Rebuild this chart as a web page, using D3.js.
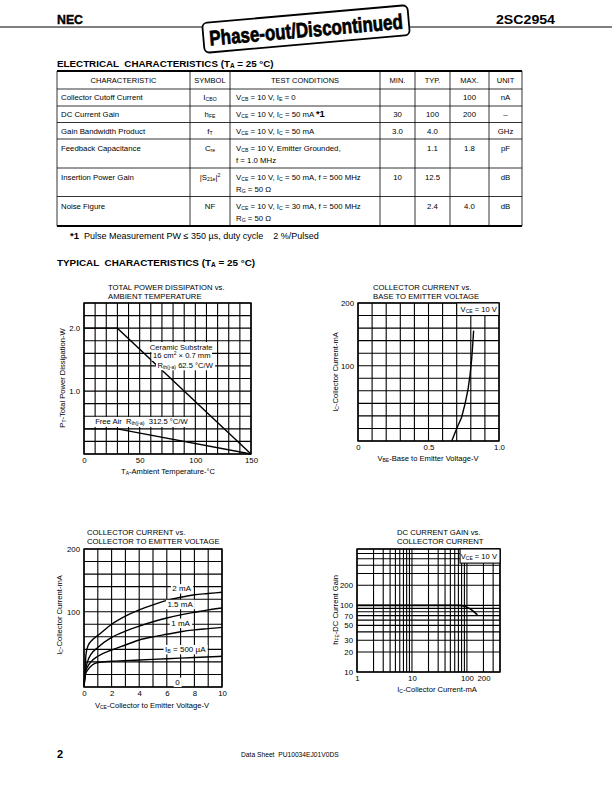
<!DOCTYPE html>
<html><head><meta charset="utf-8">
<script src="https://cdn.jsdelivr.net/npm/d3@7"></script>
<style>
html,body{margin:0;padding:0;background:#fff;}
svg{display:block;font-family:"Liberation Sans",Arial,Helvetica,sans-serif;}
text{white-space:pre;}
</style></head><body>
<svg id="page" width="612" height="792"></svg>
<script>
// ---------------- DATA ----------------
// Electrical characteristics table
const tableHeaders = ["CHARACTERISTIC","SYMBOL","TEST CONDITIONS","MIN.","TYP.","MAX.","UNIT"];
const tableCharacteristics = ["Collector Cutoff Current","DC Current Gain","Gain Bandwidth Product","Feedback Capacitance","Insertion Power Gain","Noise Figure"];
const tableSymbols = ["I_{CBO}","h_{FE}","f_{T}","C_{re}","|S_{21e}|^{2}","NF"];
const tableConditions = [
  ["V_{CB} = 10 V, I_{E} = 0"],
  ["V_{CE} = 10 V, I_{C} = 50 mA *{*1}"],
  ["V_{CE} = 10 V, I_{C} = 50 mA"],
  ["V_{CB} = 10 V, Emitter Grounded,","f = 1.0 MHz"],
  ["V_{CE} = 10 V, I_{C} = 50 mA, f = 500 MHz","R_{G} = 50 Ω"],
  ["V_{CE} = 10 V, I_{C} = 30 mA, f = 500 MHz","R_{G} = 50 Ω"]
];
const tableMin  = ["", "30", "3.0", "", "10", ""];
const tableTyp  = ["", "100", "4.0", "1.1", "12.5", "2.4"];
const tableMax  = ["100", "200", "", "1.8", "", "4.0"];
const tableUnit = ["nA", "–", "GHz", "pF", "dB", "dB"];

// Chart 1: total power dissipation vs ambient temperature
const pdTempTicks = [0, 50, 100, 150];
const pdPowerTicks = [1.0, 2.0];
const pdCeramic = [[0, 2.0], [30, 2.0], [150, 0]];
const pdFreeAir = [[0, 0.4], [30, 0.4], [150, 0]];

// Chart 2: collector current vs base-emitter voltage
const vbeTicks = [0, 0.5, 1.0];
const icTicksA = [100, 200];
const icVsVbe = [[0.665,-20],[0.70,0],[0.735,18],[0.76,40],[0.78,62],[0.795,86],[0.806,110],[0.814,135],[0.82,156]];

// Chart 3: collector current vs collector-emitter voltage
const vceTicks = [0, 2, 4, 6, 8, 10];
const icTicksB = [100, 200];
const ibNames = ["2 mA", "1.5 mA", "1 mA", "I_{B} = 500 µA", "0"];
const ib2mA   = [[0,-20],[0.08,10],[0.15,33],[0.3,46],[0.6,55],[1,62],[2,80],[3,93],[4,103],[5,111],[6,118],[7,123],[8,127],[9,129],[10,131]];
const ib15mA  = [[0,-20],[0.1,5],[0.25,20],[0.5,32],[1,43],[2,59],[3,69],[4,77],[5,84],[6,90],[7,95],[8,99],[9,103],[10,106]];
const ib1mA   = [[0,-20],[0.1,3],[0.25,12],[0.5,20],[1,29],[2,39],[3,47],[4,55],[5,60],[6,64],[7,68],[8,71],[9,73],[10,75]];
const ib05mA  = [[0,-20],[0.1,0],[0.3,8],[0.6,15],[1,19],[2,21],[4,23],[6,25],[8,27],[10,29]];
const ibLabelPos = [[7.08,137],[6.96,112],[7.0,82],[7.34,40],[6.77,-12]];

// Chart 4: DC current gain vs collector current
const hfeIcTicks = [1, 10, 100, 200];
const hfeTicks = [10, 20, 30, 50, 70, 100, 200];
const hfeVsIc = [[1,100],[70,100],[90,97],[110,90],[130,82],[155,72]];

// ---------------- DRAW ----------------
const svg = d3.select("#page");
const FONT = '"Liberation Sans",Arial,Helvetica,sans-serif';

function rich(sel, str, size) {
  const re = /(_|\^|\*)\{([^}]*)\}/g;
  let last = 0, m; const parts = [];
  while ((m = re.exec(str))) {
    if (m.index > last) parts.push({t: str.slice(last, m.index), k: ""});
    parts.push({t: m[2], k: m[1]});
    last = re.lastIndex;
  }
  if (last < str.length) parts.push({t: str.slice(last), k: ""});
  let cur = 0;
  parts.forEach(p => {
    const target = p.k === "_" ? size * 0.13 : p.k === "^" ? -size * 0.4 : 0;
    const ts = sel.append("tspan").text(p.t);
    if (target - cur !== 0) ts.attr("dy", target - cur);
    cur = target;
    if (p.k === "_" || p.k === "^") ts.attr("font-size", size * 0.66);
    if (p.k === "*") ts.attr("font-weight", "bold").attr("font-size", size * 1.2);
  });
  return sel;
}
function txt(parent, x, y, str, size, anchor, extra) {
  const t = parent.append("text").attr("x", x).attr("y", y)
    .attr("font-size", size).attr("text-anchor", anchor || "start").attr("fill", "#000");
  rich(t, str, size);
  if (extra) extra(t);
  return t;
}
function whiteBg(t, padX, padY) {
  const b = t.node().getBBox();
  t.node().parentNode.insertBefore(
    d3.create("svg:rect").attr("x", b.x - padX).attr("y", b.y - padY)
      .attr("width", b.width + 2 * padX).attr("height", b.height + 2 * padY)
      .attr("fill", "#fff").node(), t.node());
}

// ---- Header ----
svg.append("line").attr("x1", 0).attr("x2", 205).attr("y1", 27).attr("y2", 27).attr("stroke", "#000").attr("stroke-width", 1);
svg.append("line").attr("x1", 410).attr("x2", 612).attr("y1", 27).attr("y2", 27).attr("stroke", "#000").attr("stroke-width", 1);
svg.append("text").attr("x", 57).attr("y", 24).attr("font-size", 13).attr("font-weight", 900)
  .attr("stroke", "#000").attr("stroke-width", 0.4)
  .attr("textLength", 26).attr("lengthAdjust", "spacingAndGlyphs").text("NEC");
svg.append("text").attr("x", 496).attr("y", 24).attr("font-size", 12).attr("font-weight", "bold")
  .attr("textLength", 59).attr("lengthAdjust", "spacingAndGlyphs").text("2SC2954");
const stamp = svg.append("g").attr("transform", "translate(306,29) rotate(-5)");
stamp.append("rect").attr("x", -103).attr("y", -15).attr("width", 206).attr("height", 30).attr("rx", 5)
  .attr("fill", "#fff").attr("stroke", "#000").attr("stroke-width", 1.8);
stamp.append("text").attr("x", 0).attr("y", 8).attr("text-anchor", "middle").attr("font-size", 21)
  .attr("font-weight", "bold").attr("fill", "#000").attr("stroke", "#000").attr("stroke-width", 0.7)
  .attr("textLength", 194).attr("lengthAdjust", "spacingAndGlyphs").text("Phase-out/Discontinued");

// ---- Electrical characteristics ----
txt(svg, 57, 67, "ELECTRICAL  CHARACTERISTICS (T_{A} = 25 °C)", 9.8, "start", t => t.attr("font-weight", "bold"));
const colX = [57, 190, 230, 380, 415, 450, 489, 522];
const rowY = [71, 89, 106, 122.5, 139, 168, 196.5, 226];
const tbl = svg.append("g");
tbl.selectAll("line.h").data(rowY).join("line")
  .attr("x1", colX[0]).attr("x2", colX[colX.length - 1])
  .attr("y1", d => d).attr("y2", d => d)
  .attr("stroke", "#000").attr("stroke-width", (d, i) => (i === 0 || i === rowY.length - 1) ? 1.8 : 0.8);
tbl.selectAll("line.v").data(colX).join("line")
  .attr("x1", d => d).attr("x2", d => d).attr("y1", rowY[0]).attr("y2", rowY[rowY.length - 1])
  .attr("stroke", "#000").attr("stroke-width", 0.8);
const colCenter = i => (colX[i] + colX[i + 1]) / 2;
tableHeaders.forEach((h, i) => txt(tbl, colCenter(i), (rowY[0] + rowY[1]) / 2 + 2.7, h, 7.5, "middle"));
tableCharacteristics.forEach((c, r) => {
  const top = rowY[r + 1], bot = rowY[r + 2];
  const multi = tableConditions[r].length > 1;
  const y0 = multi ? top + 12 : (top + bot) / 2 + 2.8;
  txt(tbl, 61, y0, c, 7.8, "start");
  txt(tbl, colCenter(1), y0, tableSymbols[r], 7.8, "middle");
  tableConditions[r].forEach((s, k) => txt(tbl, 236, y0 + k * 12, s, 7.8, "start"));
  [tableMin, tableTyp, tableMax, tableUnit].forEach((arr, j) => {
    if (arr[r]) txt(tbl, colCenter(3 + j), y0, arr[r], 7.8, "middle");
  });
});
txt(svg, 70, 239, "*{*1}  Pulse Measurement PW ≤ 350 µs, duty cycle    2 %/Pulsed", 9, "start", t => t.select("tspan").attr("font-size", 9.5));

txt(svg, 57, 266, "TYPICAL  CHARACTERISTICS (T_{A} = 25 °C)", 9.9, "start", t => t.attr("font-weight", "bold"));

// ---- chart helpers ----
function frame(g, x, y, xGrid, yGrid) {
  const [x0, x1] = x.range(), [y0, y1] = y.range();
  g.append("g").selectAll("line").data(xGrid).join("line")
    .attr("x1", d => x(d)).attr("x2", d => x(d)).attr("y1", y0).attr("y2", y1)
    .attr("stroke", "#000").attr("stroke-width", 1.1);
  g.append("g").selectAll("line").data(yGrid).join("line")
    .attr("y1", d => y(d)).attr("y2", d => y(d)).attr("x1", x0).attr("x2", x1)
    .attr("stroke", "#000").attr("stroke-width", 1.1);
  g.append("rect").attr("x", x0).attr("y", y1).attr("width", x1 - x0).attr("height", y0 - y1)
    .attr("fill", "none").attr("stroke", "#000").attr("stroke-width", 1.4);
}
function axes(g, x, y, xTicks, yTicks, xFmt, yFmt) {
  const ax = g.append("g").attr("transform", `translate(0,${y.range()[0]})`)
    .call(d3.axisBottom(x).tickValues(xTicks).tickSize(0).tickPadding(3.5).tickFormat(xFmt));
  ax.select(".domain").remove();
  ax.attr("font-size", 7.8).attr("font-family", FONT);
  const ay = g.append("g").attr("transform", `translate(${x.range()[0]},0)`)
    .call(d3.axisLeft(y).tickValues(yTicks).tickSize(0).tickPadding(4).tickFormat(yFmt));
  ay.select(".domain").remove();
  ay.attr("font-size", 7.8).attr("font-family", FONT);
}
function title(g, x, y, lines) {
  lines.forEach((l, i) => txt(g, x, y + i * 9, l, 7.7, "start"));
}
function ylabel(g, x, yc, str) {
  txt(g, 0, 0, str, 7.6, "middle", t => t.attr("transform", `translate(${x},${yc}) rotate(-90)`));
}
const line = (x, y) => d3.line().x(d => x(d[0])).y(d => y(d[1]));
const fmtV = d => d === 0 ? "0" : d3.format(".1f")(d);

// ---- Chart 1 ----
{
  const g = svg.append("g");
  const x = d3.scaleLinear().domain([0, 150]).range([84, 251]);
  const y = d3.scaleLinear().domain([0, 2.4]).range([454, 303]);
  frame(g, x, y, d3.range(0, 151, 10), d3.range(0, 2.41, 0.2));
  axes(g, x, y, pdTempTicks, pdPowerTicks, d3.format("d"), d3.format(".1f"));
  [pdCeramic, pdFreeAir].forEach(s => g.append("path").datum(s).attr("d", line(x, y))
    .attr("fill", "none").attr("stroke", "#000").attr("stroke-width", 1.4));
  title(g, 108, 290, ["TOTAL POWER DISSIPATION vs.", "AMBIENT TEMPERATURE"]);
  ylabel(g, 65, 378, "P_{T}-Total Power Dissipation-W");
  txt(g, 168, 474, "T_{A}-Ambient Temperature-°C", 7.6, "middle");
  const ann = [["Ceramic Substrate", 59, 1.66, "start"], ["16 cm^{2} × 0.7 mm", 62, 1.52, "start"], ["R_{th(j-a)} 62.5 °C/W", 66, 1.37, "start"], ["Free Air  R_{th(j-a)}  312.5 °C/W", 10, 0.47, "start"]];
  ann.forEach(a => whiteBg(txt(g, x(a[1]), y(a[2]), a[0], 7.6, a[3]), 1.5, 0.5));
}

// ---- Chart 2 ----
{
  const g = svg.append("g");
  const x = d3.scaleLinear().domain([0, 1.0]).range([358, 499]);
  const y = d3.scaleLinear().domain([-20, 200]).range([441, 303]);
  frame(g, x, y, d3.range(0, 1.001, 0.1), d3.range(-20, 201, 20));
  axes(g, x, y, vbeTicks, icTicksA, fmtV, d3.format("d"));
  g.append("path").datum(icVsVbe).attr("d", line(x, y))
    .attr("fill", "none").attr("stroke", "#000").attr("stroke-width", 1.4);
  const bx = x(0.7), by = y(200), bw = x(1.0) - x(0.7), bh = y(180) - y(200);
  g.append("rect").attr("x", bx).attr("y", by).attr("width", bw).attr("height", bh)
    .attr("fill", "#fff").attr("stroke", "#000").attr("stroke-width", 1.1);
  txt(g, x(0.985), y(190) + 2.6, "V_{CE} = 10 V", 7.6, "end");
  title(g, 373, 290, ["COLLECTOR CURRENT vs.", "BASE TO EMITTER VOLTAGE"]);
  ylabel(g, 338, 372, "I_{C}-Collector Current-mA");
  txt(g, 428, 461, "V_{BE}-Base to Emitter Voltage-V", 7.6, "middle");
}

// ---- Chart 3 ----
{
  const g = svg.append("g");
  const x = d3.scaleLinear().domain([0, 10]).range([84, 222]);
  const y = d3.scaleLinear().domain([-20, 200]).range([687, 549]);
  frame(g, x, y, d3.range(0, 10.01, 1), d3.range(-20, 201, 20));
  axes(g, x, y, vceTicks, icTicksB, d3.format("d"), d3.format("d"));
  [ib2mA, ib15mA, ib1mA, ib05mA].forEach(s => g.append("path").datum(s)
    .attr("d", line(x, y).curve(d3.curveMonotoneX))
    .attr("fill", "none").attr("stroke", "#000").attr("stroke-width", 1.4));
  ibNames.forEach((n, i) => {
    const t = txt(g, x(ibLabelPos[i][0]), y(ibLabelPos[i][1]) + 2.8, n, 8, "middle");
    whiteBg(t, 1.5, 0.2);
  });
  title(g, 87, 535, ["COLLECTOR CURRENT vs.", "COLLECTOR TO EMITTER VOLTAGE"]);
  ylabel(g, 62, 615, "I_{C}-Collector Current-mA");
  txt(g, 152, 708, "V_{CE}-Collector to Emitter Voltage-V", 7.6, "middle");
}

// ---- Chart 4 ----
{
  const g = svg.append("g");
  const x = d3.scaleLog().domain([1, 400]).range([357, 500]);
  const y = d3.scaleLog().domain([10, 700]).range([672, 549]);
  const xGrid = [], yGrid = [];
  [1, 10, 100].forEach(dec => d3.range(1, 10).forEach(k => { if (k * dec <= 400) xGrid.push(k * dec); }));
  [10, 100].forEach(dec => d3.range(1, 10).forEach(k => { if (k * dec <= 700) yGrid.push(k * dec); }));
  frame(g, x, y, xGrid, yGrid);
  axes(g, x, y, hfeIcTicks, hfeTicks, d3.format("d"), d3.format("d"));
  g.append("path").datum(hfeVsIc).attr("d", line(x, y).curve(d3.curveMonotoneX))
    .attr("fill", "none").attr("stroke", "#000").attr("stroke-width", 1.6);
  const bx = x(75), by = y(700), bw = x(400) - x(75), bh = y(430) - y(700);
  g.append("rect").attr("x", bx).attr("y", by).attr("width", bw).attr("height", bh)
    .attr("fill", "#fff").attr("stroke", "#000").attr("stroke-width", 1.1);
  txt(g, 497, (y(700) + y(430)) / 2 + 2.6, "V_{CE} = 10 V", 7.6, "end");
  title(g, 397, 535, ["DC CURRENT GAIN vs.", "COLLECTOR CURRENT"]);
  ylabel(g, 338, 610, "h_{FE}-DC Current Gain");
  txt(g, 437, 692, "I_{C}-Collector Current-mA", 7.6, "middle");
}

// ---- Footer ----
svg.append("text").attr("x", 57).attr("y", 758).attr("font-size", 11).attr("font-weight", "bold").text("2");
svg.append("text").attr("x", 241).attr("y", 757).attr("font-size", 6.7).text("Data Sheet  PU10034EJ01V0DS");
</script>
</body></html>
